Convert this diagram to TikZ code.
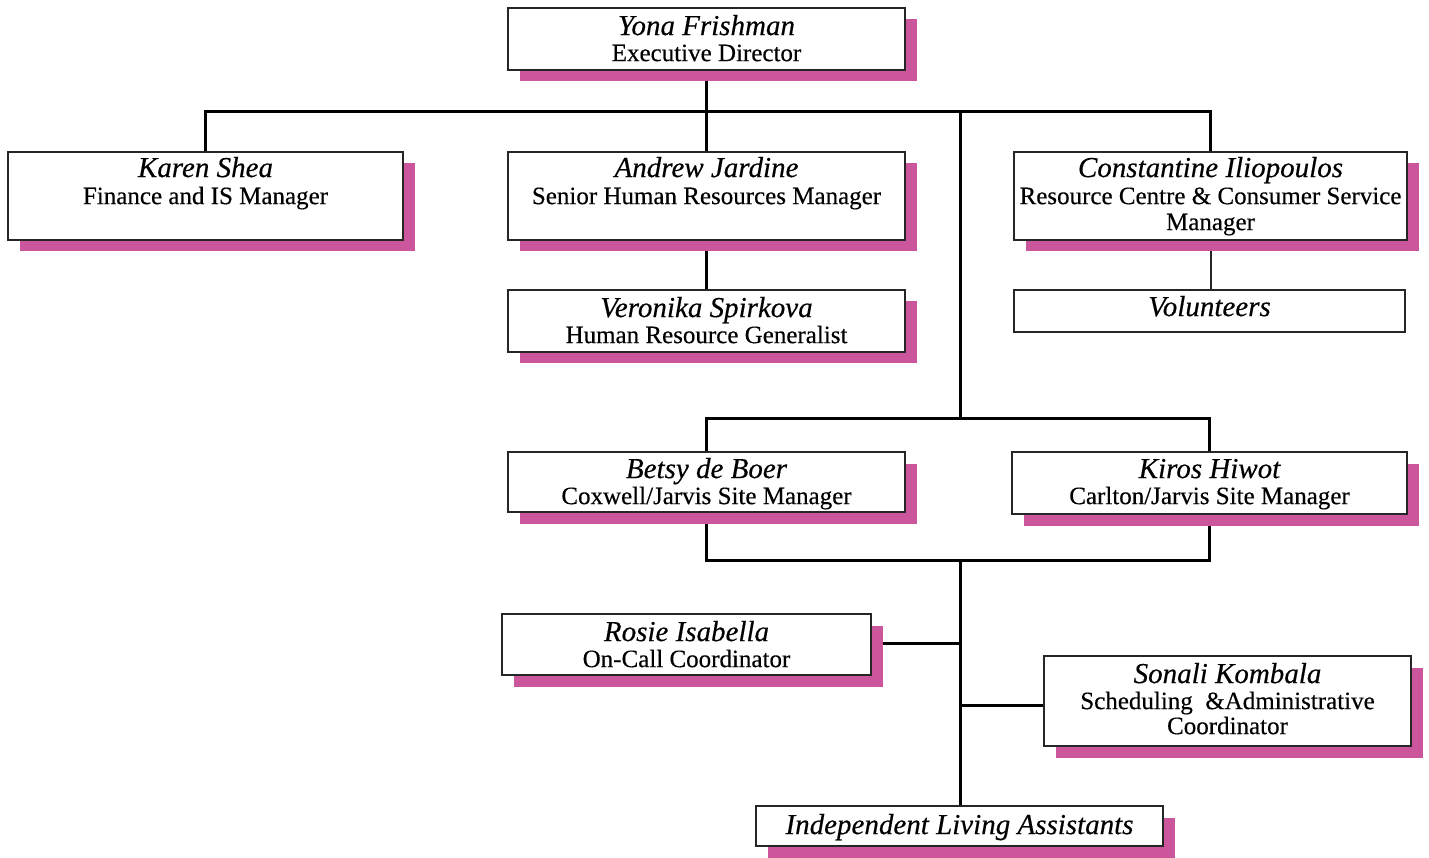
\documentclass[tikz,border=0pt]{standalone}
\usepackage{fontspec}
\setmainfont{Liberation Serif}[FakeBold=0.35]
\usetikzlibrary{shadows,backgrounds}
\definecolor{shadowpink}{RGB}{204,86,156}
\tikzset{
  x=1pt, y=-1pt,
  orgbox/.style={draw=black!85, line width=1.8pt, fill=white, inner sep=0pt,
    drop shadow={shadow xshift=11.5pt, shadow yshift=-11.5pt, fill=shadowpink, opacity=1}},
  plainbox/.style={draw=black!85, line width=1.8pt, fill=white, inner sep=0pt},
  conn/.style={line width=3pt, black},
  thinconn/.style={line width=2pt, black!85},
  tname/.style={anchor=base, inner sep=0pt, font=\fontsize{29}{31}\selectfont\itshape},
  ttitle/.style={anchor=base, inner sep=0pt, font=\fontsize{25}{27}\selectfont},
}
\begin{document}
\begin{tikzpicture}
\useasboundingbox (0,0) rectangle (1429,858);
% boxes
\node[orgbox, minimum width=397pt, minimum height=62pt] (yona) at (706.5,39) {};
\node[orgbox, minimum width=395pt, minimum height=88pt] (karen) at (205.5,196) {};
\node[orgbox, minimum width=397pt, minimum height=88pt] (andrew) at (706.5,196) {};
\node[orgbox, minimum width=393pt, minimum height=88pt] (const) at (1210.5,196) {};
\node[orgbox, minimum width=397pt, minimum height=62pt] (veron) at (706.5,321) {};
\node[plainbox, minimum width=391pt, minimum height=42pt] (volun) at (1209.5,311) {};
\node[orgbox, minimum width=397pt, minimum height=60pt] (betsy) at (706.5,482) {};
\node[orgbox, minimum width=395pt, minimum height=62pt] (kiros) at (1209.5,483) {};
\node[orgbox, minimum width=369pt, minimum height=61pt] (rosie) at (686.5,644.5) {};
\node[orgbox, minimum width=367pt, minimum height=90pt] (sonali) at (1227.5,701) {};
\node[orgbox, minimum width=407pt, minimum height=40pt] (ila) at (959.5,826) {};
% texts
\node[tname, yshift=-28pt] (yonaN) at (yona.north) {Yona Frishman};
\node[ttitle, yshift=-54pt] (yonaT) at (yona.north) {Executive Director};
\node[tname, yshift=-26pt] (karenN) at (karen.north) {Karen Shea};
\node[ttitle, yshift=-53pt] (karenT) at (karen.north) {Finance and IS Manager};
\node[tname, yshift=-26pt] (andrewN) at (andrew.north) {Andrew Jardine};
\node[ttitle, yshift=-53pt] (andrewT) at (andrew.north) {Senior Human Resources Manager};
\node[tname, yshift=-26pt] (constN) at (const.north) {Constantine Iliopoulos};
\node[ttitle, yshift=-53pt] (constT) at (const.north) {Resource Centre \& Consumer Service};
\node[ttitle, yshift=-79pt] (constT2) at (const.north) {Manager};
\node[tname, yshift=-28pt] (veronN) at (veron.north) {Veronika Spirkova};
\node[ttitle, yshift=-54pt] (veronT) at (veron.north) {Human Resource Generalist};
\node[tname, yshift=-27pt] (volunN) at (volun.north) {Volunteers};
\node[tname, yshift=-27pt] (betsyN) at (betsy.north) {Betsy de Boer};
\node[ttitle, yshift=-53pt] (betsyT) at (betsy.north) {Coxwell/Jarvis Site Manager};
\node[tname, yshift=-27pt] (kirosN) at (kiros.north) {Kiros Hiwot};
\node[ttitle, yshift=-53pt] (kirosT) at (kiros.north) {Carlton/Jarvis Site Manager};
\node[tname, yshift=-28pt] (rosieN) at (rosie.north) {Rosie Isabella};
\node[ttitle, yshift=-54pt] (rosieT) at (rosie.north) {On-Call Coordinator};
\node[tname, yshift=-28pt] (sonaliN) at (sonali.north) {Sonali Kombala};
\node[ttitle, yshift=-54pt] (sonaliT) at (sonali.north) {Scheduling~~\&Administrative};
\node[ttitle, yshift=-79pt] (sonaliT2) at (sonali.north) {Coordinator};
\node[tname, yshift=-29pt] (ilaN) at (ila.north) {Independent Living Assistants};
% connectors
\coordinate (bar) at (960,112);
\coordinate (mid) at (960,418);
\coordinate (low) at (960,560);
\begin{pgfonlayer}{background}
\draw[conn] (yona.south) -- (yona.south |- bar);
\draw[conn] (karen.north) -- (karen.north |- bar) -- (const.north |- bar) -- (const.north);
\draw[conn] (andrew.north) -- (andrew.north |- bar);
\draw[conn] (bar) -- (mid);
\draw[conn] (andrew.south) -- (veron.north);
\draw[thinconn] (const.south) -- (const.south |- volun.north);
\draw[conn] (betsy.north) -- (betsy.north |- mid) -- (kiros.north |- mid) -- (kiros.north);
\draw[conn] (betsy.south) -- (betsy.south |- low) -- (kiros.south |- low) -- (kiros.south);
\draw[conn] (low) -- (low |- ila.north);
\draw[conn] ([yshift=1pt]rosie.east) -- ([yshift=1pt]rosie.east -| low);
\draw[conn] ([yshift=-4pt]sonali.west) -- ([yshift=-4pt]sonali.west -| low);
\end{pgfonlayer}
\end{tikzpicture}
\end{document}
